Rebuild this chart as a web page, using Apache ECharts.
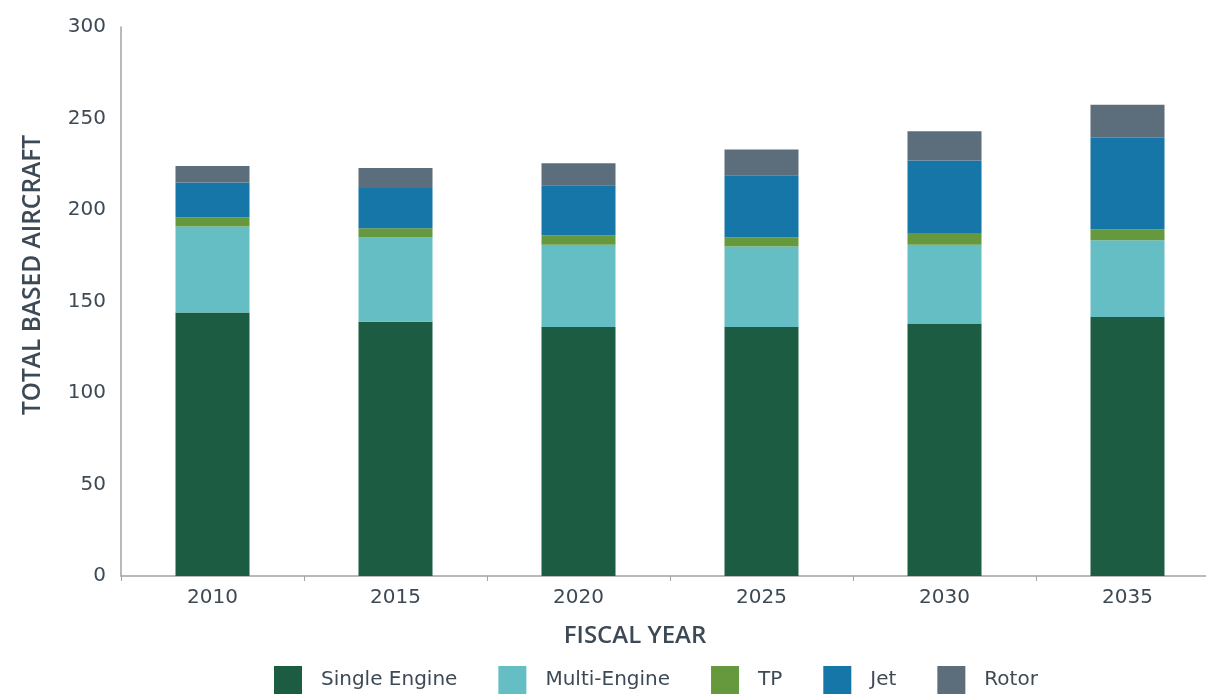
<!DOCTYPE html>
<html>
<head>
<meta charset="utf-8">
<script src="https://cdn.jsdelivr.net/npm/echarts@6/dist/echarts.min.js"></script>
<style>
  html, body { margin: 0; padding: 0; background: #fff; }
  #container { width: 1206px; height: 694px; }
</style>
</head>
<body>
<div id="container"></div>
<script>
const years = ['2010', '2015', '2020', '2025', '2030', '2035']
const singleEngine = [144, 139, 136, 136, 138, 141.5]
const multiEngine = [47, 46, 45, 44, 43, 42]
const tp = [5, 5, 5, 5, 6, 6]
const jet = [19, 22, 27.5, 34, 40, 50]
const rotor = [9, 11, 12, 14, 16, 18]
const yTicks = [0, 50, 100, 150, 200, 250, 300]

const textColor = '#3d4a56'
const font = 'DejaVu Sans'

let chartDom = document.getElementById('container')
let myChart = echarts.init(chartDom, null, { renderer: 'canvas' })

function makeSeries(name, data, color) {
  return {
    name: name,
    type: 'bar',
    stack: 'total',
    barWidth: 74,
    itemStyle: { color: color },
    emphasis: { disabled: true },
    data: data
  }
}

let option = {
  animation: false,
  textStyle: { fontFamily: font },
  grid: {
    left: 121,
    top: 27,
    width: 1098,
    height: 549,
    outerBoundsMode: 'none',
    containLabel: false
  },
  legend: {
    top: 661,
    left: 269,
    itemWidth: 28,
    itemHeight: 28,
    itemGap: 41,
    icon: 'rect',
    textStyle: { color: textColor, fontSize: 20, fontFamily: font, padding: [0, 0, 0, 14] },
    data: ['Single Engine', 'Multi-Engine', 'TP', 'Jet', 'Rotor']
  },
  graphic: [
    {
      type: 'text',
      x: 635,
      y: 636,
      style: {
        text: 'FISCAL YEAR',
        fill: textColor,
        font: '600 24px "Open Sans"',
        textAlign: 'center',
        textVerticalAlign: 'middle'
      }
    },
    {
      type: 'text',
      x: 33,
      y: 275,
      rotation: Math.PI / 2,
      style: {
        text: 'TOTAL BASED AIRCRAFT',
        fill: textColor,
        font: '600 24.5px "Open Sans"',
        textAlign: 'center',
        textVerticalAlign: 'middle'
      }
    }
  ],
  xAxis: {
    type: 'category',
    data: years,
    axisLine: { lineStyle: { color: '#a3a3a3', width: 1.5 } },
    axisTick: { show: true, length: 5, lineStyle: { color: '#a3a3a3' } },
    axisLabel: { color: textColor, fontSize: 20, margin: 12 }
  },
  yAxis: {
    type: 'value',
    min: yTicks[0],
    max: yTicks[yTicks.length - 1],
    interval: yTicks[1] - yTicks[0],
    splitLine: { show: false },
    axisLine: { show: true, lineStyle: { color: '#a3a3a3', width: 1.5 } },
    axisTick: { show: false },
    axisLabel: { color: textColor, fontSize: 20, margin: 15 }
  },
  series: [
    makeSeries('Single Engine', singleEngine, '#1b5c42'),
    makeSeries('Multi-Engine', multiEngine, '#65bec3'),
    makeSeries('TP', tp, '#66993e'),
    makeSeries('Jet', jet, '#1676a8'),
    makeSeries('Rotor', rotor, '#5c6e7c')
  ]
}

option && myChart.setOption(option)
</script>
</body>
</html>
